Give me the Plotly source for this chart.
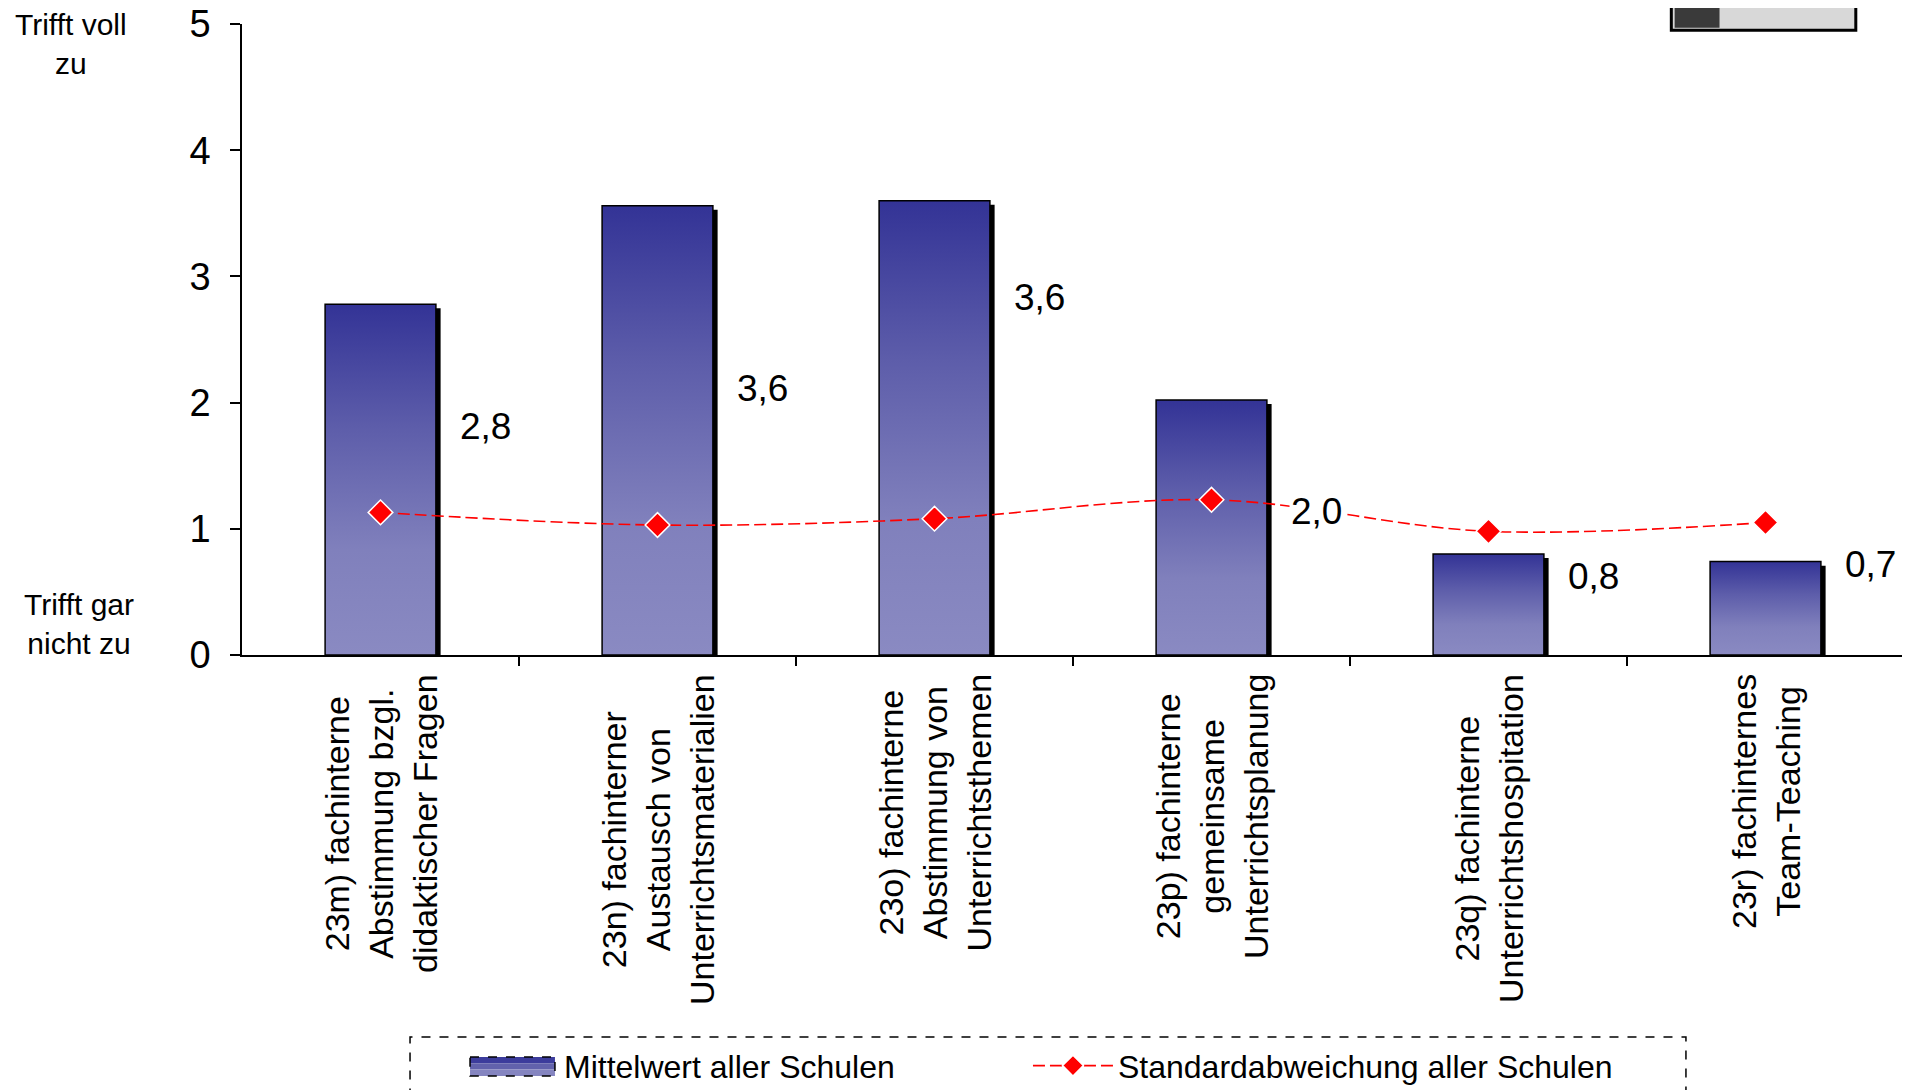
import plotly.graph_objects as go

# ---------------- data ----------------
categories = [
    "23m) fachinterne<br>Abstimmung bzgl.<br>didaktischer Fragen",
    "23n) fachinterner<br>Austausch von<br>Unterrichtsmaterialien",
    "23o) fachinterne<br>Abstimmung von<br>Unterrichtsthemen",
    "23p) fachinterne<br>gemeinsame<br>Unterrichtsplanung",
    "23q) fachinterne<br>Unterrichtshospitation",
    "23r) fachinternes<br>Team-Teaching",
]
mean_values = [2.78, 3.56, 3.60, 2.02, 0.80, 0.74]
std_values = [1.13, 1.03, 1.08, 1.23, 0.98, 1.05]
y_ticks = [0, 1, 2, 3, 4, 5]
series_names = ["Mittelwert aller Schulen", "Standardabweichung aller Schulen"]
scale_top_text = "Trifft voll<br>zu"
scale_bottom_text = "Trifft gar<br>nicht zu"

# label heights (manually placed in the original chart), in axis units
label_heights = [1.81, 2.11, 2.83, 1.14, 0.62, 0.72]

# ---------------- style ----------------
FONT = "Arial, 'Liberation Sans', sans-serif"
W, H = 1902, 1082          # page body adds an 8px margin
L, R, T, B = 234, 6, 16, 435
BAR_HALF = 0.2          # half bar width in category units
SHADOW_DX = 0.017       # shadow offset (category units)
SHADOW_DY = 0.032       # shadow offset (axis units)
GRAD = [[0.0, "#8a8ac2"], [0.3, "#8080bc"], [0.65, "#5d5daa"], [1.0, "#333396"]]

fig = go.Figure()

x_idx = list(range(len(categories)))

for i, v in enumerate(mean_values):
    # drop shadow
    fig.add_trace(go.Scatter(
        x=[i - BAR_HALF + SHADOW_DX, i + BAR_HALF + SHADOW_DX, i + BAR_HALF + SHADOW_DX,
           i - BAR_HALF + SHADOW_DX, i - BAR_HALF + SHADOW_DX],
        y=[0, 0, v - SHADOW_DY, v - SHADOW_DY, 0],
        mode="lines", fill="toself", fillcolor="black",
        line=dict(width=0, color="black"),
        showlegend=False, hoverinfo="skip",
    ))
    # bar face with vertical gradient
    fig.add_trace(go.Scatter(
        x=[i - BAR_HALF, i - BAR_HALF, i + BAR_HALF, i + BAR_HALF, i - BAR_HALF],
        y=[0, v, v, 0, 0],
        mode="lines", fill="toself",
        fillgradient=dict(type="vertical", colorscale=GRAD, start=0, stop=v),
        line=dict(width=1.5, color="black"),
        name=series_names[0], legendgroup="mean", showlegend=False,
        hovertemplate="%{y:.1f}<extra></extra>",
    ))

# legend entry for the bars (swatch drawn as shapes below)
fig.add_trace(go.Scatter(
    x=[None], y=[None], mode="lines", line=dict(color="rgba(0,0,0,0)", width=1),
    name=series_names[0], legendgroup="mean", showlegend=True, legend="legend",
))

fig.add_trace(go.Scatter(
    x=x_idx, y=std_values, mode="lines+markers",
    line=dict(color="#ff0000", width=1.6, dash="12px,5px", shape="spline", smoothing=1),
    marker=dict(symbol="diamond", size=19, color="#ff0000", line=dict(color="white", width=1.5)),
    name=series_names[1], legend="legend2",
))

annotations = []
# category labels (rotated, centered lines)
for i, c in enumerate(categories):
    annotations.append(dict(
        x=i, xref="x", y=0, yref="paper", yanchor="top", xanchor="center",
        yshift=-17, text=c, textangle=-90, align="center", showarrow=False,
        font=dict(family=FONT, size=34, color="black"),
    ))
# value labels
for i, v in enumerate(mean_values):
    annotations.append(dict(
        x=i, xref="x", xshift=105, y=label_heights[i], yref="y",
        text=f"{v:.1f}".replace(".", ","), showarrow=False, bgcolor="white",
        font=dict(family=FONT, size=37, color="black"),
    ))
# scale end descriptions
annotations.append(dict(
    x=0, xref="paper", xshift=-171, xanchor="center", y=y_ticks[-1], yref="y", yshift=-20,
    text=scale_top_text, showarrow=False, align="center",
    font=dict(family=FONT, size=30, color="black"),
))
annotations.append(dict(
    x=0, xref="paper", xshift=-163, xanchor="center", y=y_ticks[0], yref="y", yshift=31,
    text=scale_bottom_text, showarrow=False, align="center",
    font=dict(family=FONT, size=30, color="black"),
))

shapes = [
    # dashed legend frame
    dict(type="rect", xref="paper", yref="paper", x0=0.1011, x1=0.8688, y0=-0.73, y1=-0.6054,
         line=dict(color="black", width=1.5, dash="dash"), fillcolor="rgba(0,0,0,0)", layer="below"),
    # bar legend swatch (gradient approximated by strips)
    dict(type="rect", xref="paper", yref="paper", x0=0.1372, x1=0.1883, y0=-0.6370, y1=-0.6470,
         line=dict(width=0), fillcolor="#3c3c9c"),
    dict(type="rect", xref="paper", yref="paper", x0=0.1372, x1=0.1883, y0=-0.6470, y1=-0.6570,
         line=dict(width=0), fillcolor="#6262ac"),
    dict(type="rect", xref="paper", yref="paper", x0=0.1372, x1=0.1883, y0=-0.6570, y1=-0.6670,
         line=dict(width=0), fillcolor="#8585c0"),
    dict(type="rect", xref="paper", yref="paper", x0=0.1372, x1=0.1883, y0=-0.6370, y1=-0.6670,
         line=dict(color="black", width=1.5, dash="dash"), fillcolor="rgba(0,0,0,0)"),
    # logo (cut at top)
    dict(type="rect", xref="paper", yref="paper", x0=0.860, x1=0.971, y0=0.990, y1=1.06,
         line=dict(color="black", width=3), fillcolor="#d8d8d8"),
    dict(type="rect", xref="paper", yref="paper", x0=0.862, x1=0.889, y0=0.994, y1=1.06,
         line=dict(width=0), fillcolor="#3a3a3a"),
    # right page edge
    dict(type="line", xref="paper", yref="paper", x0=1.0012, x1=1.0012, y0=-0.8, y1=1.1,
         line=dict(color="black", width=2)),
]

legend_common = dict(
    orientation="h", yanchor="middle", xanchor="left", y=-0.651,
    font=dict(family=FONT, size=32, color="black"),
    itemwidth=80, bgcolor="rgba(0,0,0,0)",
)

fig.update_layout(
    width=W, height=H,
    margin=dict(l=L, r=R, t=T, b=B, autoexpand=False),
    paper_bgcolor="white", plot_bgcolor="white",
    font=dict(family=FONT, color="black"),
    showlegend=True,
    legend=dict(x=0.1396, **legend_common),
    legend2=dict(x=0.4729, **legend_common),
    xaxis=dict(
        range=[-0.5, len(categories) - 0.5],
        tickvals=[i + 0.5 for i in x_idx], showticklabels=False,
        ticks="outside", ticklen=9, tickwidth=1.5, tickcolor="black",
        showline=True, linecolor="black", linewidth=1.5,
        showgrid=False, zeroline=False, fixedrange=True,
    ),
    yaxis=dict(
        range=[y_ticks[0], y_ticks[-1]], tickvals=y_ticks,
        ticks="outside", ticklen=10, tickwidth=1.5, tickcolor="black",
        tickfont=dict(family=FONT, size=38, color="black"),
        ticklabelstandoff=12, ticklabeloverflow="allow",
        showline=True, linecolor="black", linewidth=1.5,
        showgrid=False, zeroline=False, fixedrange=True,
    ),
    annotations=annotations,
    shapes=shapes,
)

fig.write_html("out.html")
